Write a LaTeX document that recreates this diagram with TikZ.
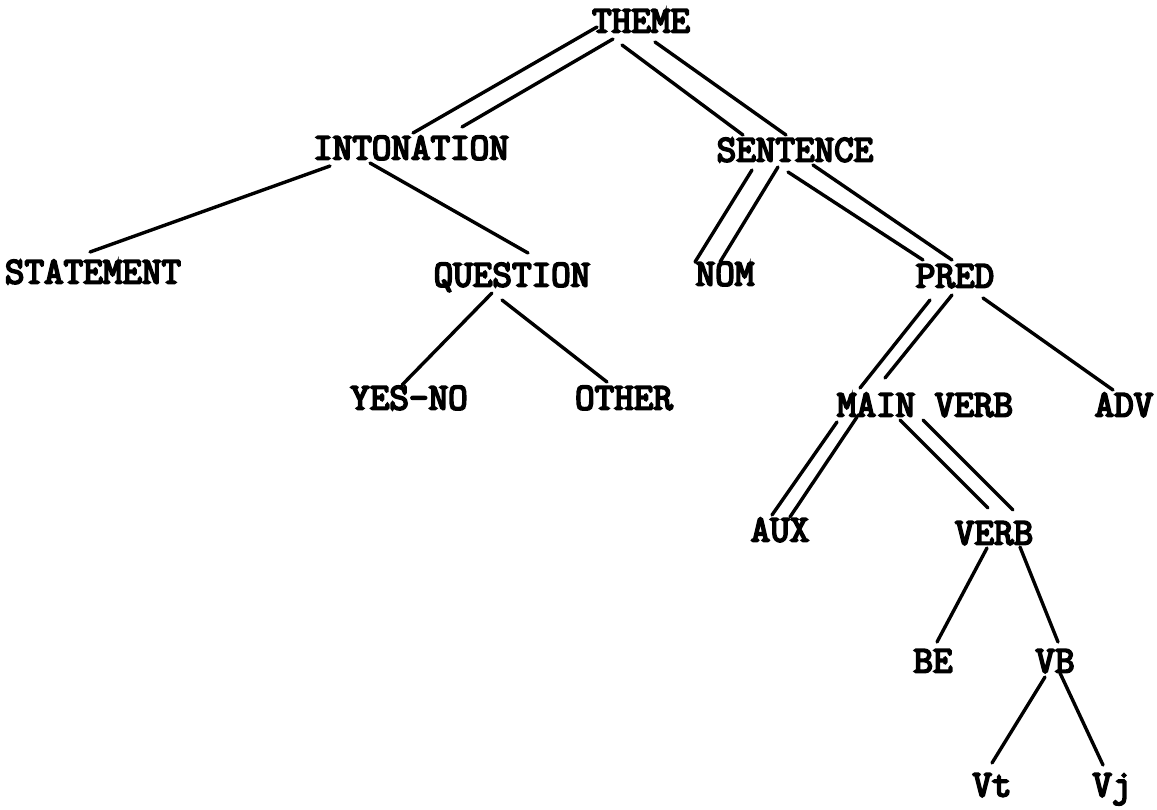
\documentclass[tikz,border=0pt]{standalone}
\usepackage{fontspec}
\newfontfamily\twfont[FakeBold=5]{Latin Modern Mono}
\tikzset{
  lbl/.style={font=\twfont\fontsize{38}{40}\selectfont, inner sep=0pt, text height=23pt, text depth=0pt},
  edge/.style={line width=3.4pt, line cap=round}
}
\begin{document}
\begin{tikzpicture}[x=1pt,y=-1pt]
\useasboundingbox (0,0) rectangle (1157,809);
\node[lbl] (theme) at (641,21) {THEME};
\node[lbl] (inton) at (411,148) {INTONATION};
\node[lbl] (sent)  at (795,150) {SENTENCE};
\node[lbl] (stat)  at (93,272) {STATEMENT};
\node[lbl] (quest) at (512,275) {QUESTION};
\node[lbl] (nom)   at (725,274) {NOM};
\node[lbl] (pred)  at (955,276) {PRED};
\node[lbl] (yesno) at (409,398) {YES-NO};
\node[lbl] (other) at (624,398) {OTHER};
\node[lbl] (main)  at (925,405) {MAIN VERB};
\node[lbl] (adv)   at (1124,405) {ADV};
\node[lbl] (aux)   at (780,530) {AUX};
\node[lbl] (verb)  at (994,533) {VERB};
\node[lbl] (be)    at (933,661) {BE};
\node[lbl] (vb)    at (1055,661) {VB};
\node[lbl] (vt)    at (992,785) {Vt};
\node[lbl] (vj)    at (1112,785) {Vj};
% THEME - INTONATION (double)
\draw[edge] ([shift={(-44,6)}]theme.center) -- ([shift={(2,-15)}]inton.center);
\draw[edge] ([shift={(-28,18)}]theme.center) -- ([shift={(51,-21)}]inton.center);
% THEME - SENTENCE (double)
\draw[edge] ([shift={(-19,24)}]theme.center) -- ([shift={(-52,-15)}]sent.center);
\draw[edge] ([shift={(14,21)}]theme.center) -- ([shift={(-9,-15)}]sent.center);
% INTONATION children
\draw[edge] ([shift={(-81,18)}]inton.center) -- ([shift={(-3,-20)}]stat.center);
\draw[edge] ([shift={(-41,15)}]inton.center) -- ([shift={(16,-22)}]quest.center);
% QUESTION children
\draw[edge] ([shift={(-20,18)}]quest.center) -- ([shift={(-7,-13)}]yesno.center);
\draw[edge] ([shift={(-10,25)}]quest.center) -- ([shift={(-17,-16)}]other.center);
% SENTENCE - NOM (double)
\draw[edge] ([shift={(-43,20)}]sent.center) -- ([shift={(-30,-12)}]nom.center);
\draw[edge] ([shift={(-17,17)}]sent.center) -- ([shift={(-5,-12)}]nom.center);
% SENTENCE - PRED (double)
\draw[edge] ([shift={(-7,22)}]sent.center) -- ([shift={(-32,-16)}]pred.center);
\draw[edge] ([shift={(18,15)}]sent.center) -- ([shift={(-3,-16)}]pred.center);
% PRED - MAIN VERB (double)
\draw[edge] ([shift={(-25,24)}]pred.center) -- ([shift={(-65,-17)}]main.center);
\draw[edge] ([shift={(-3,19)}]pred.center) -- ([shift={(-40,-27)}]main.center);
% PRED - ADV
\draw[edge] ([shift={(28,22)}]pred.center) -- ([shift={(-11,-15)}]adv.center);
% MAIN VERB - AUX (double)
\draw[edge] ([shift={(-88,17)}]main.center) -- ([shift={(-8,-15)}]aux.center);
\draw[edge] ([shift={(-68,12)}]main.center) -- ([shift={(10,-13)}]aux.center);
% MAIN VERB - VERB (double)
\draw[edge] ([shift={(-25,15)}]main.center) -- ([shift={(-6,-25)}]verb.center);
\draw[edge] ([shift={(-2,15)}]main.center) -- ([shift={(19,-23)}]verb.center);
% VERB children
\draw[edge] ([shift={(-7,15)}]verb.center) -- ([shift={(4,-19)}]be.center);
\draw[edge] ([shift={(26,14)}]verb.center) -- ([shift={(3,-19)}]vb.center);
% VB children
\draw[edge] ([shift={(-10,16)}]vb.center) -- ([shift={(0,-22)}]vt.center);
\draw[edge] ([shift={(5,12)}]vb.center) -- ([shift={(-9,-20)}]vj.center);
\end{tikzpicture}
\end{document}
